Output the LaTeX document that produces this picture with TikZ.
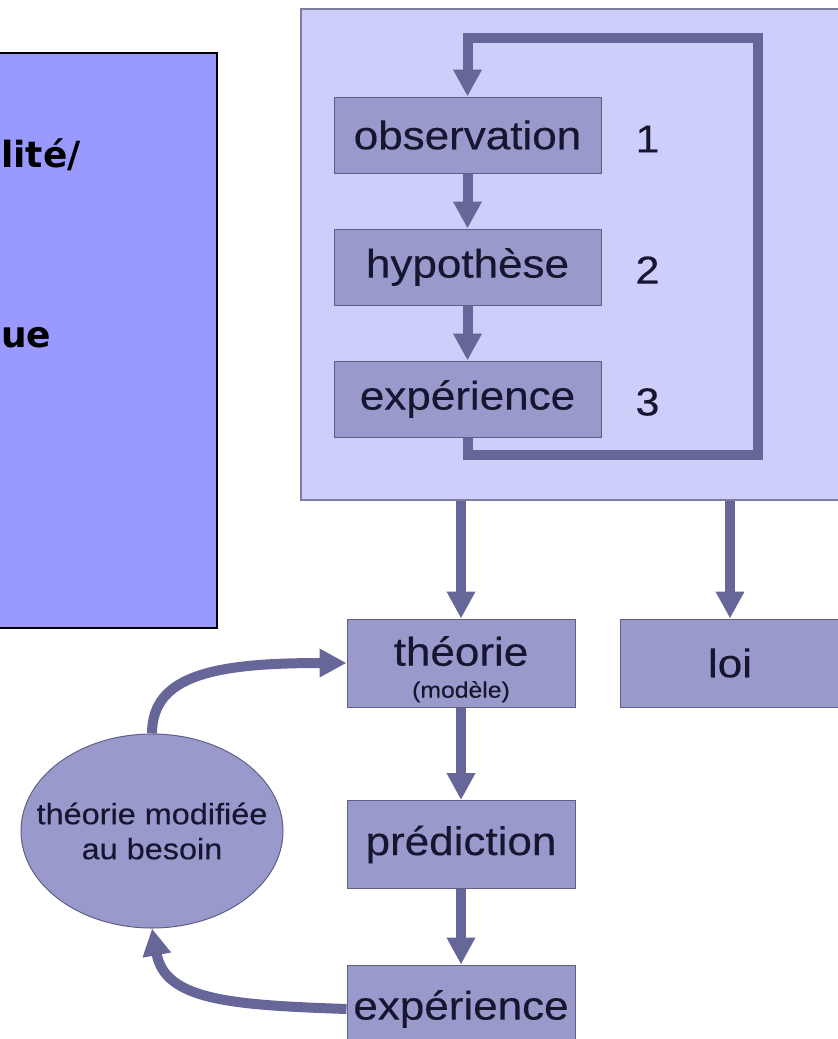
\documentclass[tikz,border=0pt]{standalone}
\usepackage{fontspec}
\setmainfont[FakeStretch=1.1,FakeBold=0.3]{Liberation Sans}
\newfontfamily\panelfont{DejaVu Sans}
\usetikzlibrary{arrows.meta,positioning,shapes.geometric}
\definecolor{panelblue}{RGB}{153,153,255}
\definecolor{framefill}{RGB}{206,206,250}
\definecolor{frameline}{RGB}{125,125,160}
\definecolor{boxfill}{RGB}{153,153,204}
\definecolor{boxline}{RGB}{95,95,135}
\definecolor{arrowcol}{RGB}{102,102,153}
\definecolor{inkblue}{RGB}{22,22,48}
\tikzset
{
    infopanel/.style = {rectangle, draw=black, fill=panelblue, line width=1.2pt, minimum width=222pt, minimum height=575pt, inner sep=0pt},
    paneltext/.style = {anchor=west, inner sep=0pt, font=\panelfont\bfseries\fontsize{36}{40}\selectfont, text=black},
    loopbox/.style   = {rectangle, draw=frameline, fill=framefill, line width=1.5pt, minimum width=540pt, minimum height=491pt, inner sep=0pt},
    stepbox/.style   = {rectangle, draw=boxline, fill=boxfill, line width=1pt, minimum width=267pt, minimum height=76pt, inner sep=0pt, font=\fontsize{40}{44}\selectfont, text=inkblue},
    resultbox/.style = {rectangle, draw=boxline, fill=boxfill, line width=1pt, minimum width=228pt, minimum height=88pt, inner sep=0pt, align=center, font=\fontsize{40}{44}\selectfont, text=inkblue},
    stepnum/.style   = {inner sep=0pt, font=\fontsize{39}{43}\selectfont, text=inkblue},
    bubble/.style    = {ellipse, draw=boxline, fill=boxfill, line width=1pt, minimum width=262pt, minimum height=194pt, inner xsep=-24pt, inner ysep=0pt, align=center, font=\fontsize{29.5}{35}\selectfont, text=inkblue},
    flow/.style      = {draw=arrowcol, line width=10pt, -{Triangle[width=27pt,length=27pt]}},
}

\begin{document}
\begin{tikzpicture}[x=1pt, y=-1pt]

   \newcommand\STEPDY{132}
   \newcommand\NUMDX{180}

   \useasboundingbox (0,0) rectangle (838,1039);
   \clip (0,0) rectangle (838,1039);

   % left panel (cut by the page edge)
   \node (panel) [infopanel] at (106,340.5) {};
   \node (pa) [paneltext] at (1,155) {lité/};
   \node (pb) [paneltext] at (1,338) {ue};

   % the method loop
   \node (frame) [loopbox] at (571,254.5) {};
   \node (obs)  [stepbox] at (467.5,135) {observation};
   \node (hyp)  [stepbox] at ([shift=({0, \STEPDY})]obs) {hypothèse};
   \node (exp)  [stepbox] at ([shift=({0, 264})]obs) {expérience};
   \node (n1)   [stepnum] at ([shift=({\NUMDX, 4})]obs) {1};
   \node (n2)   [stepnum] at ([shift=({\NUMDX, 3})]hyp) {2};
   \node (n3)   [stepnum] at ([shift=({\NUMDX, 3})]exp) {3};
   \coordinate (lb) at (467.5,455);
   \coordinate (rt) at (758,38);

   % results
   \node (theo) [resultbox] at (461,663) {\rule{0pt}{42pt}théorie\\[-12pt]{\fontsize{22.5}{25}\selectfont (modèle)}};
   \node (loi)  [resultbox, minimum width=220pt] at (730,663) {loi};
   \node (pred) [resultbox] at (461,844.5) {prédiction};
   \node (test) [resultbox] at (461,1009) {expérience};
   \node (mod)  [bubble] at (152,831) {théorie modifiée\\au besoin};

   \draw[flow] (obs) -- (hyp);
   \draw[flow] (hyp) -- (exp);
   \draw[flow] (exp.south) -- (lb) -| (rt) -| (obs.north);
   \draw[flow] (frame.south -| theo.north) -- (theo.north);
   \draw[flow] (frame.south -| loi.north) -- (loi.north);
   \draw[flow] (theo) -- (pred);
   \draw[flow] (pred) -- (test);
   \draw[flow] (mod.north) .. controls (152,675) and (215,663) .. (theo.west);
   \draw[flow] (test.west) .. controls (230,1005) and (165,1000) .. (mod.south);
\end{tikzpicture}
\end{document}
